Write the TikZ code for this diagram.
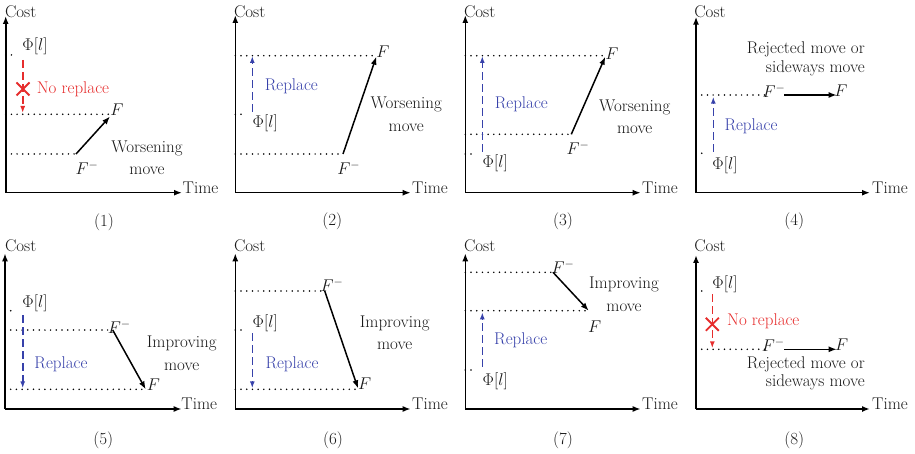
\RequirePackage{fix-cm}
\documentclass[tikz,border=0pt]{standalone}
\usetikzlibrary{arrows.meta}
\definecolor{rd}{RGB}{230,45,45}
\definecolor{bl}{RGB}{55,65,170}
\definecolor{ink}{RGB}{25,25,25}
\tikzset{
  every node/.style={inner sep=0pt, text=ink},
  lbl/.style={font=\fontsize{17}{20}\selectfont},
  two/.style={font=\fontsize{17}{22.3}\selectfont, align=center},
  rej/.style={font=\fontsize{17}{18.4}\selectfont, align=right, anchor=east},
  axis/.style={line width=1.6pt, -{Latex[length=8pt,width=6pt]}},
  lvl/.style={line width=1.7pt, line cap=round, dash pattern=on 0pt off 5.7pt},
  mv/.style={line width=1.5pt, -{Latex[length=8pt,width=6pt]}},
  rep/.style={draw=bl, line width=1.6pt, dash pattern=on 8pt off 4pt, -{Latex[length=7pt,width=5pt]}},
  norep/.style={draw=rd, line width=1.6pt, dash pattern=on 8pt off 4pt, -{Latex[length=7pt,width=5pt]}},
  xmark/.style={draw=rd, line width=1.8pt},
  bluetxt/.style={lbl, text=bl},
  redtxt/.style={lbl, text=rd},
}
\begin{document}
\begin{tikzpicture}[x=1pt,y=-1pt]
\useasboundingbox (0,0) rectangle (915,454);
% ---------------- Panel 1
\begin{scope}[shift={(0,0)}]
  \coordinate (o1) at (5.7,192.7); \coordinate (ye1) at (5.7,16); \coordinate (xe1) at (182,192.7);
  \draw[axis] (o1) -- (ye1); \draw[axis] (o1) -- (xe1);
  \node[lbl] (cost1) at (20.7,11.7) {Cost};
  \node[lbl] (time1) at (200.5,188) {Time};
  \node[lbl] (cap1) at (104,222) {(1)};
  \coordinate (pa1) at (5.7,55); \coordinate (pb1) at (16,55); \draw[lvl] (pa1) -- (pb1);
  \node[lbl] (phi1) at (35,46.7) {$\Phi[l]$};
  \coordinate (fa1) at (5.7,114.3); \coordinate (fb1) at (110,114.3); \draw[lvl] (fa1) -- (fb1);
  \node[lbl] (F1) at (117,110) {$F$};
  \coordinate (ma1) at (5.7,154); \coordinate (mb1) at (76,154); \draw[lvl] (ma1) -- (mb1);
  \node[lbl] (Fm1) at (87,168) {$F^-$};
  \coordinate (me1) at (110,116.5); \draw[mv] (mb1) -- (me1);
  \coordinate (ra1) at (22.7,60); \coordinate (rb1) at (22.7,113); \draw[norep] (ra1) -- (rb1);
  \coordinate (x1) at (23,89);
  \draw[xmark] ([shift={(-6.5,-6.5)}]x1) -- ([shift={(6.5,6.5)}]x1);
  \draw[xmark] ([shift={(-6.5,6.5)}]x1) -- ([shift={(6.5,-6.5)}]x1);
  \node[redtxt] (nr1) at (73,89) {No replace};
  \node[two] (wm1) at (147,157.6) {Worsening\\move};
\end{scope}
% ---------------- Panel 2
\begin{scope}[shift={(228,0)}]
  \coordinate (o2) at (7.3,192.7); \coordinate (ye2) at (7.3,15); \coordinate (xe2) at (182.7,192.7);
  \draw[axis] (o2) -- (ye2); \draw[axis] (o2) -- (xe2);
  \node[lbl] (cost2) at (21.7,11.7) {Cost};
  \node[lbl] (time2) at (202,188) {Time};
  \node[lbl] (cap2) at (104.3,221.7) {(2)};
  \coordinate (fa2) at (7.3,55.7); \coordinate (fb2) at (146.7,55.7); \draw[lvl] (fa2) -- (fb2);
  \node[lbl] (F2) at (155,51.7) {$F$};
  \coordinate (pa2) at (7.3,114.3); \coordinate (pb2) at (18,114.3); \draw[lvl] (pa2) -- (pb2);
  \node[lbl] (phi2) at (37.3,123.3) {$\Phi[l]$};
  \coordinate (ba2) at (24.3,111.7); \coordinate (bb2) at (24.3,56); \draw[rep] (ba2) -- (bb2);
  \node[bluetxt] (rp2) at (63.3,86) {Replace};
  \coordinate (ma2) at (7.3,154); \coordinate (mb2) at (115,154); \draw[lvl] (ma2) -- (mb2);
  \node[lbl] (Fm2) at (120.7,168.3) {$F^-$};
  \coordinate (me2) at (148.3,56.7); \draw[mv] (mb2) -- (me2);
  \node[two] (wm2) at (178.3,114.2) {Worsening\\move};
\end{scope}
% ---------------- Panel 3
\begin{scope}[shift={(458,0)}]
  \coordinate (o3) at (7.3,192.7); \coordinate (ye3) at (7.3,15); \coordinate (xe3) at (182.7,192.7);
  \draw[axis] (o3) -- (ye3); \draw[axis] (o3) -- (xe3);
  \node[lbl] (cost3) at (21.7,11.7) {Cost};
  \node[lbl] (time3) at (202,188) {Time};
  \node[lbl] (cap3) at (105,221.7) {(3)};
  \coordinate (fa3) at (7.3,55.7); \coordinate (fb3) at (146.7,55.7); \draw[lvl] (fa3) -- (fb3);
  \node[lbl] (F3) at (154,53.3) {$F$};
  \coordinate (ma3) at (7.3,134.3); \coordinate (mb3) at (113.3,134.3); \draw[lvl] (ma3) -- (mb3);
  \node[lbl] (Fm3) at (120,148.3) {$F^-$};
  \coordinate (me3) at (147.3,56.7); \draw[mv] (mb3) -- (me3);
  \coordinate (pa3) at (7.3,154); \coordinate (pb3) at (18,154); \draw[lvl] (pa3) -- (pb3);
  \node[lbl] (phi3) at (37.3,163.3) {$\Phi[l]$};
  \coordinate (ba3) at (24.3,151.7); \coordinate (bb3) at (24.3,56); \draw[rep] (ba3) -- (bb3);
  \node[bluetxt] (rp3) at (63.3,104) {Replace};
  \node[two] (wm3) at (176.7,117) {Worsening\\move};
\end{scope}
% ---------------- Panel 4
\begin{scope}[shift={(685,0)}]
  \coordinate (o4) at (11,192.7); \coordinate (ye4) at (11,16.7); \coordinate (xe4) at (185,192.7);
  \draw[axis] (o4) -- (ye4); \draw[axis] (o4) -- (xe4);
  \node[lbl] (cost4) at (25,11.7) {Cost};
  \node[lbl] (time4) at (205,188) {Time};
  \node[lbl] (cap4) at (109.3,221.7) {(4)};
  \coordinate (la4) at (11,95); \coordinate (lb4) at (80,95); \draw[lvl] (la4) -- (lb4);
  \node[lbl] (Fm4) at (89,91) {$F^-$};
  \coordinate (ms4) at (99,95); \coordinate (me4) at (151.7,95); \draw[mv] (ms4) -- (me4);
  \node[lbl] (F4) at (156,90.7) {$F$};
  \coordinate (pa4) at (11,153.3); \coordinate (pb4) at (21,153.3); \draw[lvl] (pa4) -- (pb4);
  \node[lbl] (phi4) at (40,165) {$\Phi[l]$};
  \coordinate (ba4) at (28.3,151.7); \coordinate (bb4) at (28.3,96.7); \draw[rep] (ba4) -- (bb4);
  \node[bluetxt] (rp4) at (66,126) {Replace};
  \node[rej] (rj4) at (180,58.7) {Rejected move or\\sideways move};
\end{scope}
% ---------------- Panel 5
\begin{scope}[shift={(0,230)}]
  \coordinate (o5) at (5,179); \coordinate (ye5) at (5,23.3); \coordinate (xe5) at (181.7,179);
  \draw[axis] (o5) -- (ye5); \draw[axis] (o5) -- (xe5);
  \node[lbl] (cost5) at (20.7,16) {Cost};
  \node[lbl] (time5) at (199.3,174) {Time};
  \node[lbl] (cap5) at (103.3,210) {(5)};
  \coordinate (pa5) at (5,80.7); \coordinate (pb5) at (15,80.7); \draw[lvl] (pa5) -- (pb5);
  \node[lbl] (phi5) at (35,73.3) {$\Phi[l]$};
  \coordinate (ma5) at (5,100); \coordinate (mb5) at (112.7,100); \draw[lvl] (ma5) -- (mb5);
  \node[lbl] (Fm5) at (119.3,96.7) {$F^-$};
  \coordinate (fa5) at (5,159.3); \coordinate (fb5) at (146.7,159.3); \draw[lvl] (fa5) -- (fb5);
  \node[lbl] (F5) at (153.3,155) {$F$};
  \coordinate (me5) at (145.7,159.3); \draw[mv] (mb5) -- (me5);
  \coordinate (ba5) at (22.7,85); \coordinate (bb5) at (22.7,158.3); \draw[rep] (ba5) -- (bb5);
  \node[bluetxt] (rp5) at (61,134) {Replace};
  \node[two] (im5) at (181.7,123.2) {Improving\\move};
\end{scope}
% ---------------- Panel 6
\begin{scope}[shift={(228,230)}]
  \coordinate (o6) at (7.3,179); \coordinate (ye6) at (7.3,23.3); \coordinate (xe6) at (182.7,179);
  \draw[axis] (o6) -- (ye6); \draw[axis] (o6) -- (xe6);
  \node[lbl] (cost6) at (21.7,16) {Cost};
  \node[lbl] (time6) at (202,174) {Time};
  \node[lbl] (cap6) at (105,210) {(6)};
  \coordinate (ma6) at (7.3,61); \coordinate (mb6) at (96.7,61); \draw[lvl] (ma6) -- (mb6);
  \node[lbl] (Fm6) at (104,55) {$F^-$};
  \coordinate (pa6) at (7.3,100); \coordinate (pb6) at (18,100); \draw[lvl] (pa6) -- (pb6);
  \node[lbl] (phi6) at (37.3,93.3) {$\Phi[l]$};
  \coordinate (ba6) at (24.3,103.3); \coordinate (bb6) at (24.3,158.3); \draw[rep] (ba6) -- (bb6);
  \coordinate (fa6) at (7.3,159.3); \coordinate (fb6) at (128.3,159.3); \draw[lvl] (fa6) -- (fb6);
  \node[lbl] (F6) at (136.7,154) {$F$};
  \coordinate (me6) at (130,158.3); \draw[mv] (mb6) -- (me6);
  \node[bluetxt] (rp6) at (64,134) {Replace};
  \node[two] (im6) at (166.7,102.6) {Improving\\move};
\end{scope}
% ---------------- Panel 7
\begin{scope}[shift={(458,230)}]
  \coordinate (o7) at (7.3,179); \coordinate (ye7) at (7.3,23.3); \coordinate (xe7) at (182.7,179);
  \draw[axis] (o7) -- (ye7); \draw[axis] (o7) -- (xe7);
  \node[lbl] (cost7) at (21.7,16) {Cost};
  \node[lbl] (time7) at (202,174) {Time};
  \node[lbl] (cap7) at (105,210) {(7)};
  \coordinate (ma7) at (7.3,42.3); \coordinate (mb7) at (95,42.3); \draw[lvl] (ma7) -- (mb7);
  \node[lbl] (Fm7) at (105,36.7) {$F^-$};
  \coordinate (fa7) at (7.3,80.7); \coordinate (fb7) at (130,80.7); \draw[lvl] (fa7) -- (fb7);
  \node[lbl] (F7) at (136.7,96.7) {$F$};
  \coordinate (me7) at (130.7,80.7); \draw[mv] (mb7) -- (me7);
  \coordinate (pa7) at (7.3,140); \coordinate (pb7) at (18,140); \draw[lvl] (pa7) -- (pb7);
  \node[lbl] (phi7) at (37.3,151.7) {$\Phi[l]$};
  \coordinate (ba7) at (24.3,136.7); \coordinate (bb7) at (24.3,82.3); \draw[rep] (ba7) -- (bb7);
  \node[bluetxt] (rp7) at (62.7,110.7) {Replace};
  \node[two] (im7) at (166,64.2) {Improving\\move};
\end{scope}
% ---------------- Panel 8
\begin{scope}[shift={(685,230)}]
  \coordinate (o8) at (11,179); \coordinate (ye8) at (11,25); \coordinate (xe8) at (185,179);
  \draw[axis] (o8) -- (ye8); \draw[axis] (o8) -- (xe8);
  \node[lbl] (cost8) at (25,16) {Cost};
  \node[lbl] (time8) at (205,174) {Time};
  \node[lbl] (cap8) at (109.3,210) {(8)};
  \coordinate (pa8) at (11,61); \coordinate (pb8) at (21,61); \draw[lvl] (pa8) -- (pb8);
  \node[lbl] (phi8) at (40,54) {$\Phi[l]$};
  \coordinate (ra8) at (27.3,64.3); \coordinate (rb8) at (27.3,118.3); \draw[norep] (ra8) -- (rb8);
  \coordinate (x8) at (27.3,94.3);
  \draw[xmark] ([shift={(-6.5,-6.5)}]x8) -- ([shift={(6.5,6.5)}]x8);
  \draw[xmark] ([shift={(-6.5,6.5)}]x8) -- ([shift={(6.5,-6.5)}]x8);
  \node[redtxt] (nr8) at (78.3,91.7) {No replace};
  \coordinate (la8) at (11,119.3); \coordinate (lb8) at (80,119.3); \draw[lvl] (la8) -- (lb8);
  \node[lbl] (Fm8) at (88.3,115) {$F^-$};
  \coordinate (ms8) at (99,119.3); \coordinate (me8) at (151.7,119.3); \draw[mv] (ms8) -- (me8);
  \node[lbl] (F8) at (156.7,115) {$F$};
  \node[rej] (rj8) at (180,143.1) {Rejected move or\\sideways move};
\end{scope}
\end{tikzpicture}
\end{document}
